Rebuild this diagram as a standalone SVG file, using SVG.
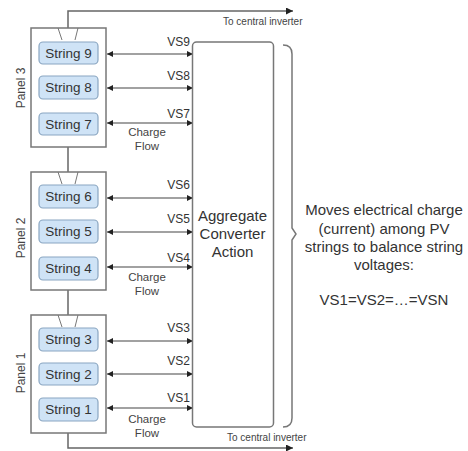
<svg xmlns="http://www.w3.org/2000/svg" width="468" height="451" viewBox="0 0 468 451">
<defs>
<style>
text{font-family:"Liberation Sans",Arial,sans-serif;fill:#333}
.panel{fill:#fff;stroke:#777;stroke-width:1.5}
.str{fill:#cfe3f6;stroke:#8aa6c1;stroke-width:1.2}
.strt{font-size:13.5px;text-anchor:middle}
.wire{fill:none;stroke:#666;stroke-width:1.5}
.thin{fill:none;stroke:#777;stroke-width:1}
.arr{fill:none;stroke:#444;stroke-width:1.2;marker-start:url(#ah);marker-end:url(#ah)}
.vs{font-size:12px;text-anchor:end}
.cf{font-size:11.5px;text-anchor:middle;fill:#444}
.pl{font-size:12px;text-anchor:middle;fill:#444}
.inv{font-size:10px;fill:#444}
.big{font-size:15px;text-anchor:middle}
</style>
<marker id="ah" viewBox="0 0 10 10" refX="10" refY="5" markerWidth="8" markerHeight="6" markerUnits="userSpaceOnUse" orient="auto-start-reverse">
<path d="M0,0 L10,5 L0,10 z" fill="#222"/>
</marker>
<marker id="ah2" viewBox="0 0 10 10" refX="10" refY="5" markerWidth="10" markerHeight="7" markerUnits="userSpaceOnUse" orient="auto">
<path d="M0,0 L10,5 L0,10 z" fill="#222"/>
</marker>
</defs>

<g id="connectors">
<path class="wire" d="M68,28 V11 H293" marker-end="url(#ah2)"/>
<path class="wire" d="M68,433 V448 H293" marker-end="url(#ah2)"/>
<path class="wire" d="M68,147 V172"/>
<path class="wire" d="M68,290 V315"/>
<line class="arr" x1="107" y1="54" x2="193" y2="54"/>
<line class="arr" x1="107" y1="88" x2="193" y2="88"/>
<line class="arr" x1="107" y1="123" x2="193" y2="123"/>
<line class="arr" x1="107" y1="198" x2="193" y2="198"/>
<line class="arr" x1="107" y1="232" x2="193" y2="232"/>
<line class="arr" x1="107" y1="267" x2="193" y2="267"/>
<line class="arr" x1="107" y1="341" x2="193" y2="341"/>
<line class="arr" x1="107" y1="374" x2="193" y2="374"/>
<line class="arr" x1="107" y1="408" x2="193" y2="408"/>
<text class="inv" x="223" y="25">To central inverter</text>
<text class="inv" x="227" y="441">To central inverter</text>
<text class="vs" x="190" y="46">VS9</text>
<text class="vs" x="190" y="80">VS8</text>
<text class="vs" x="190" y="118">VS7</text>
<text class="vs" x="190" y="189">VS6</text>
<text class="vs" x="190" y="223">VS5</text>
<text class="vs" x="190" y="262">VS4</text>
<text class="vs" x="190" y="332">VS3</text>
<text class="vs" x="190" y="365">VS2</text>
<text class="vs" x="190" y="402">VS1</text>
<text class="cf" x="147" y="136">Charge</text>
<text class="cf" x="147" y="150">Flow</text>
<text class="cf" x="147" y="281">Charge</text>
<text class="cf" x="147" y="295">Flow</text>
<text class="cf" x="147" y="423">Charge</text>
<text class="cf" x="147" y="437">Flow</text>
</g>

<g id="panel3">
<rect class="panel" x="31" y="28" width="75" height="119"/>
<path class="thin" d="M58,28 L62,40 M78,28 L75,40"/>
<text class="pl" transform="translate(25,88) rotate(-90)">Panel 3</text>
</g>
<g id="string9"><rect class="str" x="39" y="42" width="59" height="22" rx="4"/><text class="strt" x="68.5" y="58">String 9</text></g>
<g id="string8"><rect class="str" x="39" y="76" width="59" height="23" rx="4"/><text class="strt" x="68.5" y="92">String 8</text></g>
<g id="string7"><rect class="str" x="39" y="113" width="59" height="22" rx="4"/><text class="strt" x="68.5" y="129">String 7</text></g>

<g id="panel2">
<rect class="panel" x="31" y="172" width="75" height="118"/>
<path class="thin" d="M58,172 L62,184 M78,172 L75,184"/>
<text class="pl" transform="translate(25,238) rotate(-90)">Panel 2</text>
</g>
<g id="string6"><rect class="str" x="39" y="185" width="59" height="23" rx="4"/><text class="strt" x="68.5" y="201">String 6</text></g>
<g id="string5"><rect class="str" x="39" y="220" width="59" height="23" rx="4"/><text class="strt" x="68.5" y="236">String 5</text></g>
<g id="string4"><rect class="str" x="39" y="257" width="59" height="23" rx="4"/><text class="strt" x="68.5" y="273">String 4</text></g>

<g id="panel1">
<rect class="panel" x="31" y="315" width="75" height="118"/>
<path class="thin" d="M58,315 L62,327 M78,315 L75,327"/>
<text class="pl" transform="translate(25,373) rotate(-90)">Panel 1</text>
</g>
<g id="string3"><rect class="str" x="39" y="328" width="59" height="23" rx="4"/><text class="strt" x="68.5" y="344">String 3</text></g>
<g id="string2"><rect class="str" x="39" y="363" width="59" height="22" rx="4"/><text class="strt" x="68.5" y="379">String 2</text></g>
<g id="string1"><rect class="str" x="39" y="398" width="59" height="23" rx="4"/><text class="strt" x="68.5" y="414">String 1</text></g>

<g id="aggregate">
<rect x="192.5" y="42" width="81" height="385" rx="4" fill="#fff" stroke="#777" stroke-width="1.5"/>
<text class="big" x="232.5" y="221">Aggregate</text>
<text class="big" x="232.5" y="239">Converter</text>
<text class="big" x="232.5" y="257">Action</text>
</g>

<g id="brace">
<path d="M283,45 Q292,45 292,54 V228 L296,234 L292,240 V418 Q292,427 283,427" fill="none" stroke="#777" stroke-width="1.5"/>
</g>

<g id="note">
<text class="big" x="384" y="215">Moves electrical charge</text>
<text class="big" x="384" y="234">(current) among PV</text>
<text class="big" x="384" y="252">strings to balance string</text>
<text class="big" x="384" y="270">voltages:</text>
<text class="big" x="384" y="305">VS1=VS2=…=VSN</text>
</g>
</svg>
